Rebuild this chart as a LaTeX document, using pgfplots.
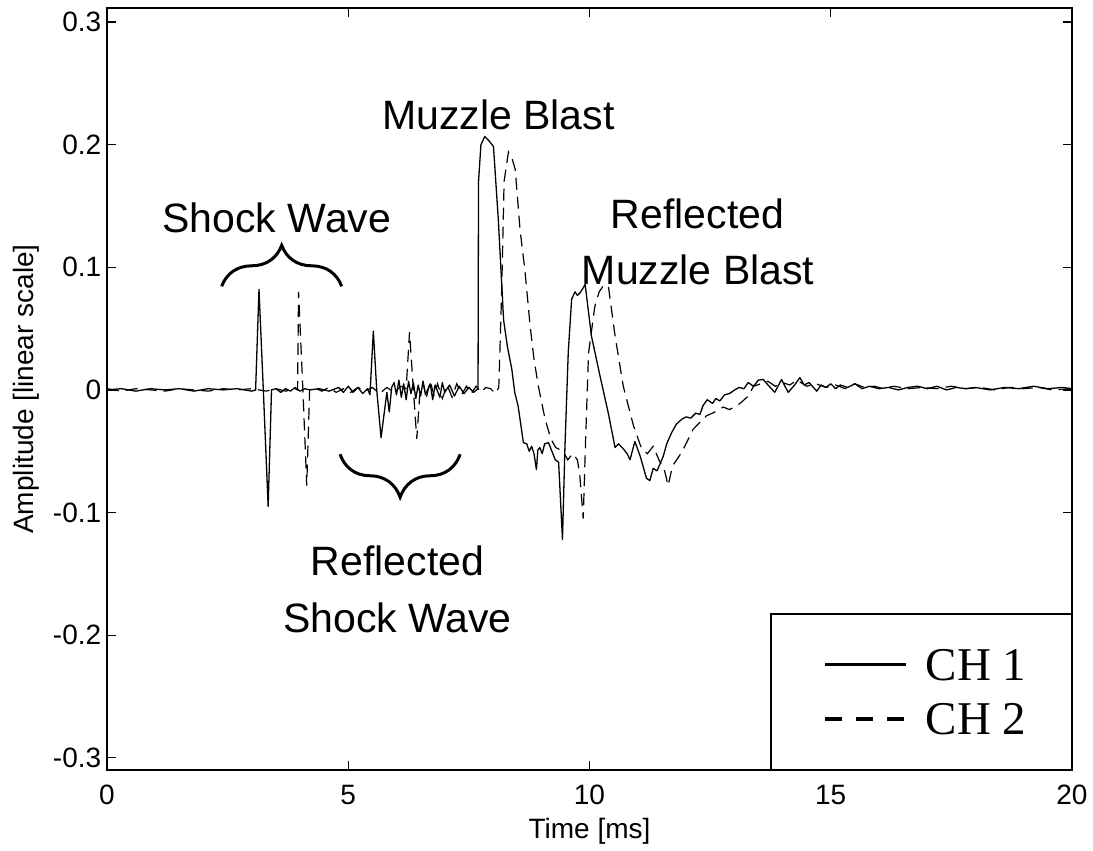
\documentclass[border=0pt]{standalone}
\usepackage{pgfplots}
\pgfplotsset{compat=1.18}
\usepackage{fontspec}
\setmainfont{Liberation Sans}
\newfontfamily\timesfont{Liberation Serif}
\usetikzlibrary{decorations.pathreplacing}
\begin{document}
\begin{tikzpicture}
\begin{axis}[
  scale only axis,
  width=482.5pt, height=381pt,
  xmin=0, xmax=20, ymin=-0.31, ymax=0.3115,
  xtick={0,5,10,15,20},
  ytick={-0.3,-0.2,-0.1,0,0.1,0.2,0.3},
  yticklabels={-0.3,-0.2,-0.1,0,0.1,0.2,0.3},
  /pgf/number format/assume math mode=true,
  tick label style={font=\fontsize{14}{16}\selectfont},
  yticklabel style={inner sep=0pt, xshift=-2.7pt},
  xticklabel style={inner sep=0pt, yshift=-7.5pt},
  tick align=inside,
  major tick length=4.5pt,
  every tick/.style={black, line width=0.6pt},
  axis line style={line width=0.65pt},
  xlabel={Time [ms]},
  ylabel={Amplitude [linear scale]},
  label style={font=\fontsize{14}{16}\selectfont},
  xlabel style={at={(axis description cs:0.5,-0.0898)}, anchor=base},
  ylabel style={at={(axis description cs:-0.0765,0.5)}, anchor=base},
  legend style={at={(axis description cs:1,0)}, anchor=south east,
    draw=black, line width=0.6pt, fill=white,
    font=\timesfont\fontsize{23.5}{28}\selectfont,
    inner xsep=22.5pt, inner ysep=17.5pt, row sep=11.6pt, column sep=9pt,
    nodes={inner sep=0pt, text depth=0pt}},
  legend cell align=left,
  clip=false,
]
\addplot[black, line width=0.65pt, line join=round,
  legend image code/.code={
    \pgfpathmoveto{\pgfpoint{0pt}{0pt}}\pgfpathlineto{\pgfpoint{4.5pt}{0pt}}\pgfusepath{}
    \draw[black, line width=1.8pt, solid] (4.5pt,0pt) -- (45pt,0pt);}] coordinates {
(0,0) (0.3,0.001) (0.6,-0.001) (0.9,0.001) (1.2,0) (1.5,0.001) (1.8,-0.001) (2.1,0.001) (2.4,0) (2.7,0.001) (3.0,-0.001) (3.08,0) (3.15,0.082) (3.24,0) (3.34,-0.095) (3.41,0) (3.5,0.001)(3.6,-0.002)(3.7,0.001)(3.8,-0.001)(3.9,0.002)(4.0,-0.001)(4.1,0.001)(4.2,0)(4.4,0.001)(4.6,-0.001)(4.8,0.002)(4.9,-0.002)(5.0,0.003)(5.1,-0.002)(5.2,0.002)(5.3,-0.003)(5.4,0.001)(5.45,-0.004)(5.52,0.048)(5.59,0)(5.68,-0.039)(5.80,-0.002)(5.85,-0.018)(5.90,0.002)(5.95,0.006)(6.0,-0.004)(6.05,0.008)(6.1,-0.006)(6.15,0.005)(6.2,-0.008)(6.25,0.007)(6.3,-0.003)(6.35,0.006)(6.4,-0.007)(6.45,0.004)(6.5,-0.005)(6.55,0.007)(6.6,-0.004)(6.7,0.005)(6.75,-0.008)(6.8,0.004)(6.9,-0.006)(6.95,0.006)(7.0,-0.002)(7.1,0.004)(7.2,-0.005)(7.3,0.003)(7.4,-0.003)(7.5,0.002)(7.6,-0.002)(7.69,0.001)(7.70,0.17)(7.75,0.200)(7.83,0.2067)(7.92,0.203)(8.01,0.1985)(8.11,0.139)(8.22,0.057)(8.30,0.035)(8.39,0.017)(8.45,-0.002)(8.52,-0.013)(8.63,-0.043)(8.70,-0.044)(8.75,-0.050)(8.80,-0.046)(8.85,-0.052)(8.90,-0.065)(8.93,-0.049)(8.97,-0.047)(9.02,-0.052)(9.07,-0.044)(9.15,-0.043)(9.22,-0.050)(9.29,-0.057)(9.36,-0.059)(9.44,-0.122)(9.49,-0.048)(9.56,0.031)(9.63,0.074)(9.70,0.080)(9.75,0.077)(9.80,0.079)(9.85,0.082)(9.91,0.086)(10.04,0.044)(10.22,0.011)(10.39,-0.019)(10.53,-0.047)(10.60,-0.044)(10.70,-0.048)(10.78,-0.052)(10.84,-0.057)(10.94,-0.042)(11.05,-0.054)(11.18,-0.072)(11.25,-0.074)(11.32,-0.064)(11.40,-0.066)(11.53,-0.054)(11.60,-0.044)(11.70,-0.035)(11.80,-0.028)(11.91,-0.024)(12.0,-0.022)(12.1,-0.023)(12.2,-0.019)(12.29,-0.020)(12.35,-0.013)(12.44,-0.008)(12.55,-0.011)(12.62,-0.007)(12.70,-0.009)(12.8,-0.004)(12.9,-0.003)(13.01,0.000)(13.1,0.002)(13.2,0.001)(13.29,0.006)(13.4,0.003)(13.5,0.008)(13.60,0.0085)(13.7,0.004)(13.84,-0.002)(13.98,0.0085)(14.05,0.003)(14.12,-0.002)(14.25,0.004)(14.36,0.010)(14.45,0.004)(14.55,0.006)(14.71,-0.001)(14.8,0.004)(14.9,0.002)(15.0,0.005)(15.1,0.001)(15.2,0.004)(15.35,0.002)(15.5,0.005)(15.65,0.001)(15.8,0.003)(16.0,0.001)(16.2,0.002)(16.4,0)(16.6,0.002)(16.8,0.003)(17.0,0.001)(17.2,0.003)(17.4,0.0)(17.6,0.002)(17.8,0.001)(18.0,0.002)(18.3,0.0)(18.6,0.002)(18.9,0.001)(19.2,0.003)(19.5,0.001)(19.8,0.002)(20,0.001)
};
\addlegendentry{CH 1}
\addplot[black, line width=0.6pt, dash pattern=on 6pt off 3.5pt,
  legend image code/.code={
    \pgfpathmoveto{\pgfpoint{0pt}{0pt}}\pgfpathlineto{\pgfpoint{4.5pt}{0pt}}\pgfusepath{}
    \draw[black, line width=1.8pt, dash pattern=on 8.5pt off 7pt] (4.5pt,0pt) -- (45pt,0pt);}] coordinates {
(0,0.001)(0.3,-0.001)(0.6,0.001)(0.9,0)(1.2,-0.001)(1.5,0.001)(1.8,0)(2.1,-0.001)(2.4,0.001)(2.7,0)(3.0,0.001)(3.3,-0.001)(3.5,0.001)(3.7,-0.001)(3.9,0.001)(3.95,0)(3.97,0.080)(4.06,0)(4.14,-0.078)(4.20,0)(4.3,0.002)(4.45,-0.001)(4.6,0.002)(4.75,-0.002)(4.9,0.001)(5.05,-0.002)(5.2,0.002)(5.35,-0.001)(5.5,0.002)(5.65,-0.003)(5.8,0.002)(5.95,-0.002)(6.1,0.003)(6.2,0.001)(6.27,0.047)(6.35,0)(6.42,-0.040)(6.48,-0.005)(6.55,0.006)(6.62,-0.006)(6.7,0.007)(6.78,-0.005)(6.85,0.005)(6.95,-0.007)(7.05,0.004)(7.15,-0.006)(7.25,0.005)(7.35,-0.004)(7.45,0.003)(7.55,-0.003)(7.65,0.003)(7.75,-0.002)(7.85,0.002)(7.95,0.001)(8.05,-0.003)(8.12,0.002)(8.18,0.08)(8.23,0.17)(8.32,0.194)(8.40,0.188)(8.46,0.180)(8.56,0.131)(8.66,0.098)(8.77,0.052)(8.85,0.025)(8.94,0.003)(9.08,-0.024)(9.2,-0.040)(9.3,-0.047)(9.45,-0.050)(9.55,-0.057)(9.65,-0.052)(9.75,-0.057)(9.80,-0.070)(9.87,-0.105)(9.92,-0.040)(9.98,0.030)(10.11,0.068)(10.2,0.080)(10.29,0.085)(10.39,0.085)(10.53,0.044)(10.70,0.003)(10.91,-0.029)(11.08,-0.048)(11.2,-0.052)(11.32,-0.046)(11.45,-0.058)(11.55,-0.065)(11.63,-0.078)(11.72,-0.062)(11.91,-0.051)(12.05,-0.040)(12.15,-0.032)(12.3,-0.026)(12.43,-0.021)(12.6,-0.018)(12.77,-0.014)(12.9,-0.016)(13.05,-0.013)(13.15,-0.010)(13.29,-0.005)(13.40,0.003)(13.55,0.005)(13.7,0.007)(13.85,0.003)(14.0,0.006)(14.15,0.004)(14.3,0.008)(14.5,0.003)(14.7,0.005)(14.9,0.002)(15.1,0.004)(15.3,0.001)(15.5,0.005)(15.7,0.002)(15.9,0.003)(16.1,0.001)(16.3,0.003)(16.6,0.001)(16.9,0.002)(17.2,0.001)(17.5,0.003)(17.8,0.001)(18.1,0.002)(18.4,0.0)(18.7,0.002)(19.0,0.001)(19.3,0.002)(19.6,0.0)(20,0.001)
};
\addlegendentry{CH 2}
% annotations
\draw[line width=1.5pt, decorate, decoration={brace, amplitude=20.5pt}] (axis cs:2.377,0.0845) -- (axis cs:4.864,0.0845);
\draw[line width=1.5pt, decorate, decoration={brace, amplitude=21.5pt}] (axis cs:7.32,-0.0525) -- (axis cs:4.83,-0.0525);
\begin{scope}[every node/.style={font=\fontsize{20.5}{24}\selectfont, inner sep=0pt, anchor=base}]
\node at (axis cs:3.52,0.128) {Shock Wave};
\node at (axis cs:8.11,0.2127) {Muzzle Blast};
\node at (axis cs:12.24,0.132) {Reflected};
\node at (axis cs:12.25,0.0859) {Muzzle Blast};
\node at (axis cs:6.02,-0.1516) {Reflected};
\node at (axis cs:6.02,-0.1977) {Shock Wave};
\end{scope}
\end{axis}
\path ([shift={(-53.5pt,-36.5pt)}]current axis.south west) rectangle ([shift={(10.5pt,4pt)}]current axis.north east);
\end{tikzpicture}
\end{document}
